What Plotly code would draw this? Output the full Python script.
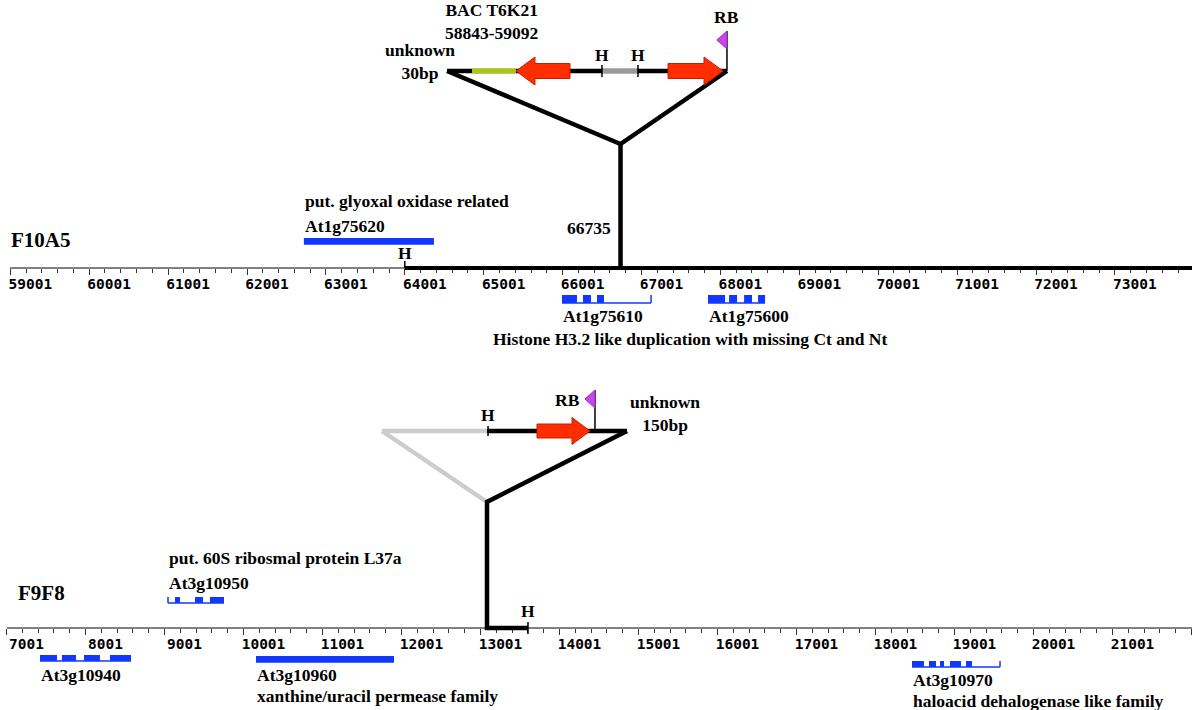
import plotly.graph_objects as go

# ---------------- data ----------------
top_clone = "F10A5"
bottom_clone = "F9F8"

top_axis_start, top_axis_end = 59001, 73978
bottom_axis_start, bottom_axis_end = 7001, 22007
major_step, minor_step = 1000, 200

top_insertion = 66735
bottom_insertion = 13083
top_hind_site = 64001
bottom_hind_site = 13602

top_gene_names = ["At1g75620", "At1g75610", "At1g75600"]
top_gene_spans = [[62722, 64370], [65993, 67122], [67844, 68567]]
top_gene_exons = [
    [[62722, 64370]],
    [[65993, 66183], [66259, 66361], [66437, 66526]],
    [[67844, 68060], [68111, 68212], [68301, 68402], [68478, 68567]],
]
top_gene_notes = ["put. glyoxal oxidase related", "", ""]
top_shared_note = "Histone H3.2 like duplication with missing Ct and Nt"
top_shared_note_start = 65106

bottom_gene_names = ["At3g10950", "At3g10940", "At3g10960", "At3g10970"]
bottom_gene_spans = [[9045, 9754], [7425, 8577], [10159, 11906], [18463, 19577]]
bottom_gene_exons = [
    [[9134, 9197], [9387, 9488], [9577, 9754]],
    [[7425, 7640], [7703, 7881], [7982, 8184], [8311, 8577]],
    [[10159, 11906]],
    [[18463, 18615], [18678, 18767], [18817, 18868], [18944, 19083], [19146, 19222]],
]
bottom_gene_notes = ["put. 60S ribosmal protein L37a", "",
                     "xanthine/uracil permease family", "haloacid dehalogenase like family"]

# junction schematics (axis units)
top_bac_label = ["BAC T6K21", "58843-59092"]
top_bac_label_x = 65094
top_junction_ends = [64536, 68084]
top_green_segment = [64853, 65410]
top_gray_segment = [66500, 66956]
top_hind_marks = [66500, 66956]
top_arrows = [[66095, 65410], [67337, 68034]]  # tail, tip
top_rb = 68084
top_unknown = ["unknown", "30bp"]
top_unknown_x = 64193

bottom_junction_ends = [11754, 14855]
bottom_hind_marks = [13096]
bottom_arrows = [[13716, 14387]]
bottom_rb = 14450
bottom_rb_label_x = 14108
bottom_unknown = ["unknown", "150bp"]
bottom_unknown_x = 15337

watermark = "Zchrono (C) Paolo Zaccaria, MIPS, 1999"

# ---------------- layout / style ----------------
W, H = 1192, 710
TOP_DOM0_PX, BOT_DOM0_PX = 10.3, 6.5
TOP_DOM0, BOT_DOM0 = TOP_DOM0_PX / W, BOT_DOM0_PX / W
TOP_RULER_Y, BOT_RULER_Y = 268, 628
TOP_LINE_Y, TOP_APEX_Y = 71, 144
BOT_LINE_Y, BOT_APEX_Y = 431, 502
BLUE = "#1238ff"
RED = "#ff2d00"
RED_EDGE = "#c81e00"
PURPLE = "#cc44ee"
GREEN = "#a8cc00"
DGRAY = "#999999"
LGRAY = "#cccccc"
SERIF = "Liberation Serif"
MONO = "DejaVu Sans Mono"
LW = 4.5
FS = 17.5

top_gene_rows = [241, 299, 299]
top_gene_heights = [6, 8, 8]
top_label_rows = [226, 316, 316]
top_note_rows = [201, None, None]

bottom_gene_rows = [600, 658, 659, 664]
bottom_gene_heights = [6, 6, 6, 6]
bottom_label_rows = [583, 675, 675, 680]
bottom_note_rows = [558, None, 696, 701]

top_px = (top_axis_end - top_axis_start) / (W * (1 - TOP_DOM0))
bot_px = (bottom_axis_end - bottom_axis_start) / (W * (1 - BOT_DOM0))

fig = go.Figure()
shapes = []
annotations = []


def line(ax, x, y, color, width):
    fig.add_trace(go.Scatter(x=x, y=y, xaxis=ax, yaxis="y", mode="lines",
                             line=dict(color=color, width=width),
                             hoverinfo="skip", showlegend=False))


def poly(ax, x, y, fill, edge):
    fig.add_trace(go.Scatter(x=x, y=y, xaxis=ax, yaxis="y", mode="lines",
                             fill="toself", fillcolor=fill,
                             line=dict(color=edge, width=1),
                             hoverinfo="skip", showlegend=False))


def label(ax, x, y, text, size=FS, anchor="left", color="black", family=SERIF, xshift=0):
    if isinstance(text, (list, tuple)):
        text = "<br>".join("<b>%s</b>" % t for t in text)
    else:
        text = "<b>%s</b>" % text
    annotations.append(dict(xref=ax, yref="y", x=x, y=y, text=text,
                            showarrow=False, xanchor=anchor, yanchor="middle",
                            xshift=xshift, borderpad=0, align="center",
                            font=dict(family=family, size=size, color=color)))


def faint_text(ax, x, y, text):
    fig.add_trace(go.Scatter(x=[x], y=[y], xaxis=ax, yaxis="y", mode="text",
                             text=["<b>%s</b>" % text], textposition="middle right",
                             textfont=dict(family=MONO, size=13, color="#efefef"),
                             cliponaxis=False, hoverinfo="skip", showlegend=False))


def gene(ax, span, exons, yc, h):
    top, bot = yc - h / 2, yc + h / 2
    shapes.append(dict(type="line", xref=ax, yref="y", x0=span[0], x1=span[1],
                       y0=bot, y1=bot, line=dict(color=BLUE, width=1.5)))
    if exons[0][0] > span[0]:
        shapes.append(dict(type="line", xref=ax, yref="y", x0=span[0], x1=span[0],
                           y0=top, y1=bot, line=dict(color=BLUE, width=1.5)))
    if exons[-1][1] < span[1]:
        shapes.append(dict(type="line", xref=ax, yref="y", x0=span[1], x1=span[1],
                           y0=top, y1=bot, line=dict(color=BLUE, width=1.5)))
    for e in exons:
        shapes.append(dict(type="rect", xref=ax, yref="y", x0=e[0], x1=e[1],
                           y0=top, y1=bot, fillcolor=BLUE, line=dict(width=0)))


def arrow(ax, tail, tip, yc, pxs, head_px=19, head_half=14, body_half=7.5):
    d = 1 if tip > tail else -1
    hb = tip - d * head_px * pxs
    poly(ax, [tail, hb, hb, tip, hb, hb, tail, tail],
         [yc - body_half, yc - body_half, yc - head_half, yc, yc + head_half,
          yc + body_half, yc + body_half, yc - body_half], RED, RED_EDGE)


def flag(ax, x, base_y, pxs, height=40):
    top = base_y - height
    line(ax, [x, x], [base_y, top], "black", 1.5)
    poly(ax, [x, x, x - 10 * pxs, x], [top, top + 18, top + 9, top], PURPLE, "#9a30b8")


def htick(ax, x, y0, y1):
    line(ax, [x, x], [y0, y1], "black", 1.5)


# watermarks (very faint, underneath everything)
faint_text("x", top_axis_start - (TOP_DOM0_PX - 1) * top_px, 304, watermark)
faint_text("x2", bottom_axis_start - (BOT_DOM0_PX - 1) * bot_px, 664, watermark)

# ---- rulers (thick parts) ----
line("x", [top_hind_site, top_axis_end], [TOP_RULER_Y, TOP_RULER_Y], "black", 4)
htick("x", top_hind_site, TOP_RULER_Y - 7, TOP_RULER_Y)
label("x", top_hind_site, 253, "H", anchor="center")

# ---- top junction ----
line("x", [top_junction_ends[0], top_insertion, top_junction_ends[1]],
     [TOP_LINE_Y, TOP_APEX_Y, TOP_LINE_Y], "black", LW)
line("x", [top_insertion, top_insertion], [TOP_APEX_Y, TOP_RULER_Y], "black", LW)
line("x", top_junction_ends, [TOP_LINE_Y, TOP_LINE_Y], "black", LW)
line("x", top_green_segment, [TOP_LINE_Y, TOP_LINE_Y], GREEN, LW)
line("x", top_gray_segment, [TOP_LINE_Y, TOP_LINE_Y], DGRAY, LW)
for hx in top_hind_marks:
    htick("x", hx, TOP_LINE_Y - 6, TOP_LINE_Y + 6)
    label("x", hx, 55, "H", anchor="center")
for a in top_arrows:
    arrow("x", a[0], a[1], TOP_LINE_Y, top_px)
flag("x", top_rb, TOP_LINE_Y, top_px)
label("x", top_rb, 17, "RB", anchor="center")
label("x", top_bac_label_x, 21.5, top_bac_label, anchor="center")
label("x", top_unknown_x, 61, top_unknown, anchor="center")
label("x", top_insertion, 228, str(top_insertion), anchor="right", xshift=-9)

# ---- top genes ----
for i, name in enumerate(top_gene_names):
    gene("x", top_gene_spans[i], top_gene_exons[i], top_gene_rows[i], top_gene_heights[i])
    label("x", top_gene_spans[i][0], top_label_rows[i], name)
    if top_note_rows[i] is not None:
        label("x", top_gene_spans[i][0], top_note_rows[i], top_gene_notes[i])
label("x", top_shared_note_start, 339, top_shared_note)
label("paper", 10 / W, 240, top_clone, size=21)

# ---- bottom junction ----
line("x2", [bottom_junction_ends[0], bottom_insertion], [BOT_LINE_Y, BOT_APEX_Y], LGRAY, LW)
line("x2", [bottom_junction_ends[0], bottom_insertion], [BOT_LINE_Y, BOT_LINE_Y], LGRAY, LW)
line("x2", [bottom_junction_ends[1], bottom_insertion, bottom_insertion, bottom_hind_site],
     [BOT_LINE_Y, BOT_APEX_Y, BOT_RULER_Y, BOT_RULER_Y], "black", LW)
line("x2", [bottom_insertion, bottom_junction_ends[1]], [BOT_LINE_Y, BOT_LINE_Y], "black", LW)
for hx in bottom_hind_marks:
    htick("x2", hx, BOT_LINE_Y - 5, BOT_LINE_Y + 5)
    label("x2", hx, 415, "H", anchor="center")
htick("x2", bottom_hind_site, BOT_RULER_Y - 6, BOT_RULER_Y + 6)
label("x2", bottom_hind_site, 611, "H", anchor="center")
for a in bottom_arrows:
    arrow("x2", a[0], a[1], BOT_LINE_Y, bot_px, head_px=18, head_half=13.5, body_half=7)
flag("x2", bottom_rb, BOT_LINE_Y, bot_px, height=41)
label("x2", bottom_rb_label_x, 400, "RB", anchor="center")
label("x2", bottom_unknown_x, 413.5, bottom_unknown, anchor="center")

# ---- bottom genes ----
for i, name in enumerate(bottom_gene_names):
    gene("x2", bottom_gene_spans[i], bottom_gene_exons[i], bottom_gene_rows[i], bottom_gene_heights[i])
    label("x2", bottom_gene_spans[i][0], bottom_label_rows[i], name)
    if bottom_note_rows[i] is not None:
        label("x2", bottom_gene_spans[i][0], bottom_note_rows[i], bottom_gene_notes[i])
label("paper", 17 / W, 593, bottom_clone, size=21)


def ruler_axis(a0, a1, d0, ruler_y):
    return dict(range=[a0, a1], domain=[d0, 1], anchor="free", position=1 - ruler_y / H,
                showline=True, linecolor="#808080", linewidth=1.5,
                ticks="outside", ticklen=6, tickwidth=1.2, tickcolor="#333333",
                tickmode="linear", tick0=a0, dtick=major_step, tickformat="d",
                minor=dict(ticks="outside", ticklen=4, tickwidth=1, tickcolor="#333333",
                           tick0=a0, dtick=minor_step, showgrid=False),
                showgrid=False, zeroline=False, automargin=False, fixedrange=True,
                tickfont=dict(family=MONO, size=14.5, color="#000000", weight="bold"),
                ticklabelshift=20, ticklabelstandoff=-3, layer="below traces")


fig.update_layout(
    width=W, height=H, margin=dict(l=0, r=0, t=0, b=0),
    paper_bgcolor="white", plot_bgcolor="rgba(0,0,0,0)", showlegend=False,
    xaxis=ruler_axis(top_axis_start, top_axis_end, TOP_DOM0, TOP_RULER_Y),
    xaxis2=ruler_axis(bottom_axis_start, bottom_axis_end, BOT_DOM0, BOT_RULER_Y),
    yaxis=dict(range=[H, 0], domain=[0, 1], anchor="x", visible=False, fixedrange=True),
    shapes=shapes, annotations=annotations,
)

fig.write_html("out.html", config={"displayModeBar": False},
               post_script="document.body.style.margin='0';document.body.style.overflow='hidden';")
